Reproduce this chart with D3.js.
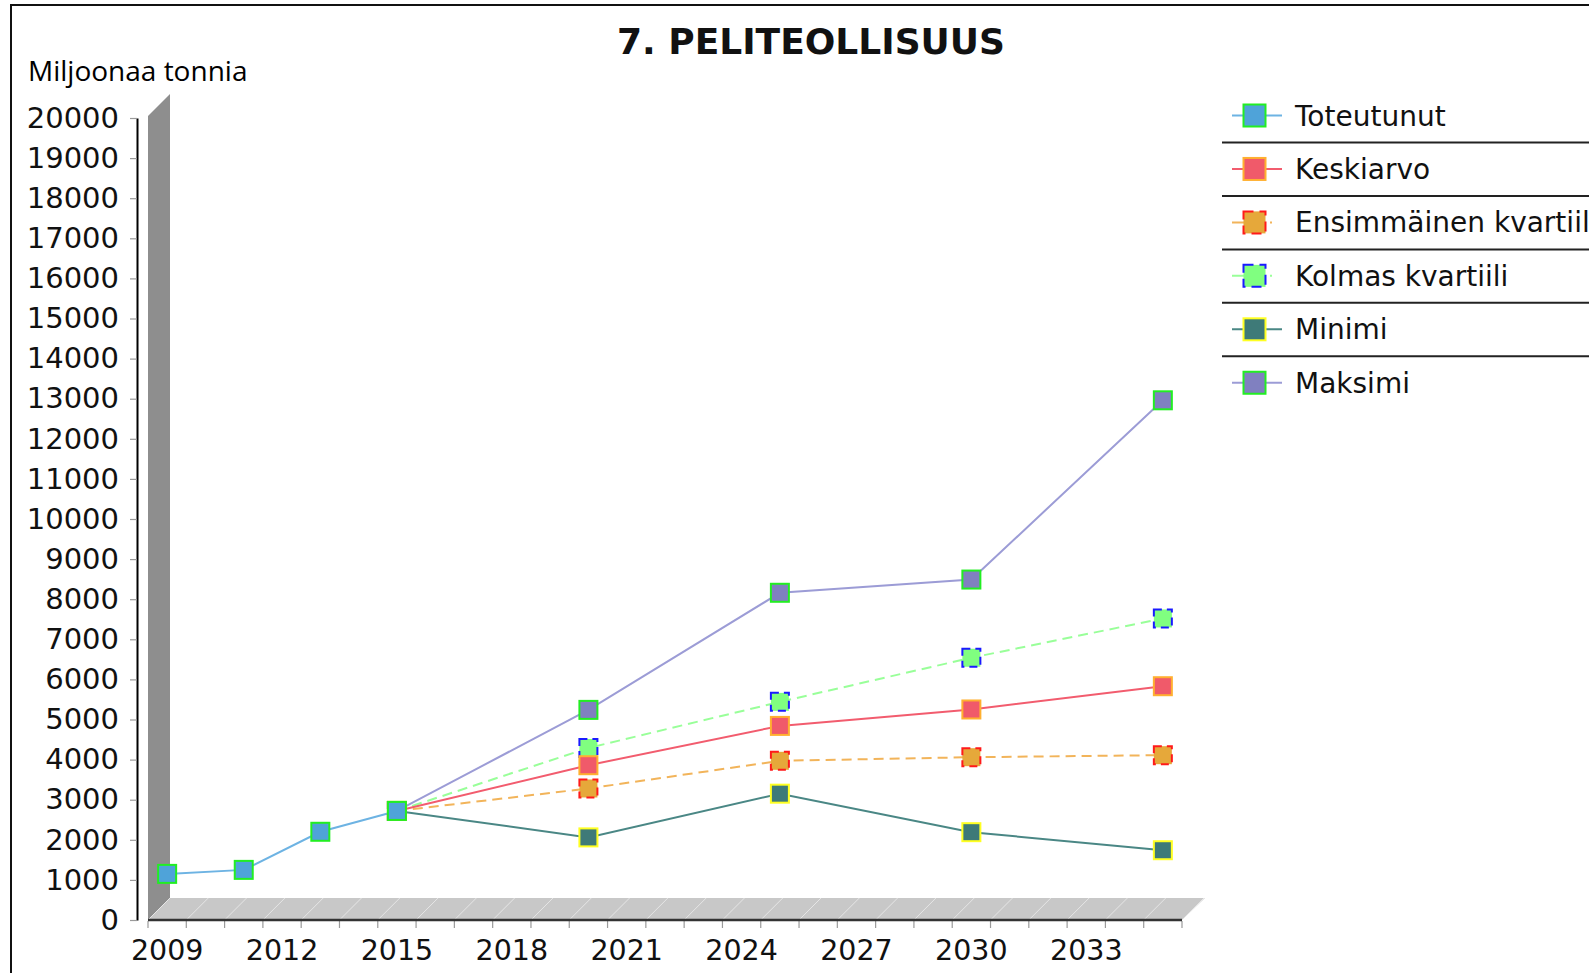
<!DOCTYPE html>
<html><head><meta charset="utf-8">
<script src="https://cdn.jsdelivr.net/npm/d3@7"></script>
<style>body{margin:0;background:#fff;}svg{display:block;}</style>
</head><body>
<script>
// ---- data ----
const years = [2009,2010,2011,2012,2013,2014,2015,2016,2017,2018,2019,2020,2021,2022,2023,2024,2025,2026,2027,2028,2029,2030,2031,2032,2033,2034,2035];
const xTickLabels = [2009,2012,2015,2018,2021,2024,2027,2030,2033];
const yTicks = [0,1000,2000,3000,4000,5000,6000,7000,8000,9000,10000,11000,12000,13000,14000,15000,16000,17000,18000,19000,20000];
const histYears = [2009,2011,2013,2015];
const toteutunut = [1150,1250,2200,2720];
const projYears = [2015,2020,2025,2030,2035];
const keskiarvo = [2720,3860,4840,5250,5830];
const ensKvartiili = [2720,3280,3970,4060,4110];
const kolmasKvartiili = [2720,4290,5440,6540,7520];
const minimi = [2720,2060,3150,2190,1740];
const maksimi = [2720,5240,8160,8490,12960];
const seriesNames = ["Toteutunut","Keskiarvo","Ensimmäinen kvartiili","Kolmas kvartiili","Minimi","Maksimi"];

const styles = [
  {line:"#6db3e3", fill:"#4fa3d9", stroke:"#22ee22", dash:null},
  {line:"#f25c6e", fill:"#f05a6a", stroke:"#ffb030", dash:null},
  {line:"#f2b45a", fill:"#e6a83a", stroke:"#ff1a1a", dash:"10,6"},
  {line:"#99ff99", fill:"#80ff80", stroke:"#1a1aff", dash:"10,6"},
  {line:"#4a8785", fill:"#3e7a78", stroke:"#ffff22", dash:null},
  {line:"#9c9cd6", fill:"#8080c0", stroke:"#22ee22", dash:null}
];
const series = [
  {xs:histYears, ys:toteutunut},
  {xs:projYears, ys:keskiarvo},
  {xs:projYears, ys:ensKvartiili},
  {xs:projYears, ys:kolmasKvartiili},
  {xs:projYears, ys:minimi},
  {xs:projYears, ys:maksimi}
];

const W = 1589, H = 973;
const svg = d3.select("body").append("svg").attr("width", W).attr("height", H);

// frame
svg.append("rect").attr("x",11).attr("y",5).attr("width",W+20).attr("height",H+20)
  .attr("fill","none").attr("stroke","#111").attr("stroke-width",2);

const x = d3.scaleBand().domain(years).range([148,1182]).padding(0);
const y = d3.scaleLinear().domain([0,20000]).range([920,118]);
const bw = x.bandwidth();
const cx = v => x(v) + bw/2;
const dx = 22, dy = 22;
const y0 = y(0), yTop = y(20000);

// wall
svg.append("path").attr("fill","#8e8e8e")
  .attr("d", `M${x.range()[0]},${y0}L${x.range()[0]},${yTop-2}L${x.range()[0]+dx},${yTop-2-dy}L${x.range()[0]+dx},${y0-dy}Z`);
// floor
svg.append("path").attr("fill","#c8c8c8")
  .attr("d", `M${x.range()[0]},${y0}L${x.range()[1]},${y0}L${x.range()[1]+dx+1},${y0-dy}L${x.range()[0]+dx},${y0-dy}Z`);
// floor grid lines at category boundaries
const bounds = years.map(v => x(v)).concat([x(years[years.length-1]) + bw]);
svg.append("g").selectAll("line").data(bounds).join("line")
  .attr("x1", d=>d).attr("y1", y0).attr("x2", d=>d+dx).attr("y2", y0-dy)
  .attr("stroke","#e6e6e6").attr("stroke-width",1);

// x ticks at boundaries
svg.append("g").selectAll("line").data(bounds).join("line")
  .attr("x1", d=>d).attr("x2", d=>d).attr("y1", y0+1).attr("y2", y0+8)
  .attr("stroke","#9a9a9a").attr("stroke-width",1.2);
// x axis line
svg.append("line").attr("x1",x.range()[0]).attr("x2",x.range()[1]).attr("y1",y0).attr("y2",y0)
  .attr("stroke","#333").attr("stroke-width",2.5);

// x labels
const xAxis = d3.axisBottom(x).tickValues(xTickLabels).tickSize(0).tickPadding(0);
const gx = svg.append("g").attr("transform",`translate(0,${y0})`).call(xAxis);
gx.select(".domain").remove();
gx.selectAll("text").attr("font-family","DejaVu Sans").attr("font-size",28.5).attr("fill","#111")
  .attr("dy",null).attr("y",40);

// y axis
const yAxis = d3.axisLeft(y).tickValues(yTicks).tickSize(7).tickSizeOuter(0).tickPadding(11).tickFormat(d3.format("d"));
const gy = svg.append("g").attr("transform","translate(137,0)").call(yAxis);
gy.select(".domain").attr("stroke","#000").attr("stroke-width",2);
gy.selectAll(".tick line").attr("stroke","#9a9a9a").attr("stroke-width",1.2);
gy.selectAll("text").attr("font-family","DejaVu Sans").attr("font-size",29).attr("fill","#111");

// title and axis label
svg.append("text").attr("x",811).attr("y",54).attr("text-anchor","middle")
  .attr("font-family","DejaVu Sans").attr("font-weight","bold").attr("font-size",36).attr("fill","#111")
  .text("7. PELITEOLLISUUS");
svg.append("text").attr("x",28).attr("y",81)
  .attr("font-family","Open Sans").attr("font-size",28).attr("fill","#000")
  .text("Miljoonaa tonnia");

// series lines (reverse order, first series on top)
const line = d3.line().x(d=>cx(d[0])).y(d=>y(d[1]));
const order = [5,4,3,2,1,0];
order.forEach(i => {
  const s = series[i], st = styles[i];
  const pts = s.xs.map((v,k)=>[v, s.ys[k]]);
  svg.append("path").attr("d", line(pts)).attr("fill","none")
    .attr("stroke", st.line).attr("stroke-width", 2)
    .attr("stroke-dasharray", st.dash);
});
order.forEach(i => {
  const s = series[i], st = styles[i];
  const pts = s.xs.map((v,k)=>[v, s.ys[k]]);
  svg.append("g").selectAll("rect").data(pts).join("rect")
    .attr("x", d=>cx(d[0])-9).attr("y", d=>y(d[1])-9).attr("width",18).attr("height",18)
    .attr("fill", st.fill).attr("stroke", st.stroke).attr("stroke-width",2)
    .attr("stroke-dasharray", st.dash ? "8,5" : null);
});

// legend
const legX = 1232, legY0 = 115.5, legStep = 53.45;
const leg = svg.append("g");
seriesNames.forEach((name, i) => {
  const st = styles[i];
  const yy = legY0 + i*legStep;
  leg.append("line").attr("x1",legX).attr("x2",legX+50).attr("y1",yy).attr("y2",yy)
    .attr("stroke",st.line).attr("stroke-width",2).attr("stroke-dasharray", st.dash ? "32,6,2,20" : null);
  leg.append("rect").attr("x",legX+11.5).attr("y",yy-11).attr("width",22).attr("height",22)
    .attr("fill",st.fill).attr("stroke",st.stroke).attr("stroke-width",2)
    .attr("stroke-dasharray", st.dash ? "10,6" : null);
  leg.append("text").attr("x",1295).attr("y",yy+10)
    .attr("font-family","DejaVu Sans").attr("font-size",28).attr("fill","#111").text(name);
  if (i < seriesNames.length-1) {
    leg.append("line").attr("x1",1222).attr("x2",W).attr("y1",yy+27).attr("y2",yy+27)
      .attr("stroke","#222").attr("stroke-width",2);
  }
});
</script>
</body></html>
